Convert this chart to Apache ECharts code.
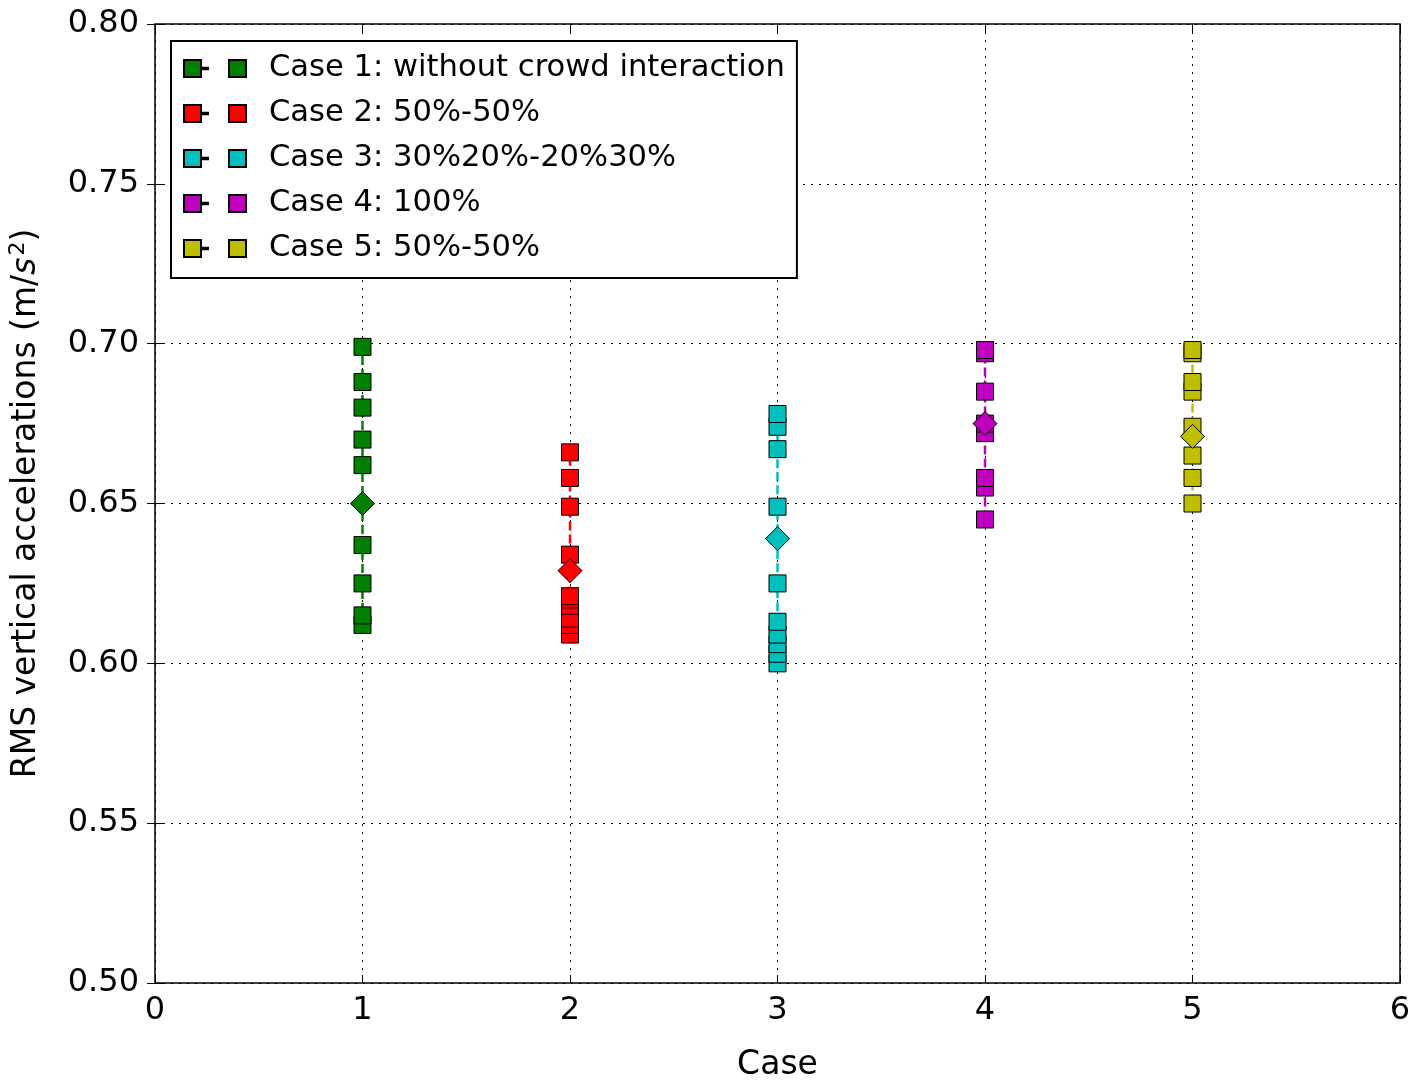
<!DOCTYPE html>
<html>
<head>
<meta charset="utf-8">
<script src="https://cdn.jsdelivr.net/npm/echarts@6/dist/echarts.min.js"></script>
<style>
html,body{margin:0;padding:0;background:#fff;}
#chart{width:1418px;height:1080px;}
</style>
</head>
<body>
<div id="chart"></div>
<script>
// ---- data ----
const caseNames = [
  'Case 1: without crowd interaction',
  'Case 2: 50%-50%',
  'Case 3: 30%20%-20%30%',
  'Case 4: 100%',
  'Case 5: 50%-50%'
];
const caseX = [1, 2, 3, 4, 5];
const case1 = [0.612, 0.615, 0.625, 0.637, 0.662, 0.670, 0.680, 0.688, 0.699];
const case2 = [0.609, 0.612, 0.614, 0.618, 0.620, 0.621, 0.634, 0.649, 0.658, 0.666];
const case3 = [0.600, 0.603, 0.606, 0.609, 0.613, 0.625, 0.649, 0.667, 0.674, 0.678];
const case4 = [0.645, 0.655, 0.658, 0.672, 0.675, 0.685, 0.697, 0.698];
const case5 = [0.650, 0.658, 0.665, 0.674, 0.685, 0.688, 0.697, 0.698];
const caseMeans = [0.650, 0.629, 0.639, 0.675, 0.671];
const xTicks = [0, 1, 2, 3, 4, 5, 6];
const yTicks = [0.50, 0.55, 0.60, 0.65, 0.70, 0.75, 0.80];
const caseColors = ['#007f00', '#ff0000', '#00bfbf', '#bf00bf', '#bfbf00'];

const caseValues = [case1, case2, case3, case4, case5];
const FONT = 'DejaVu Sans';

const series = [];
caseValues.forEach((vals, i) => {
  series.push({
    name: caseNames[i],
    type: 'line',
    xAxisIndex: 0, yAxisIndex: 0,
    data: vals.map(v => [caseX[i], v]),
    symbol: 'rect',
    symbolSize: 17,
    showAllSymbol: true,
    itemStyle: { color: caseColors[i], borderColor: '#000', borderWidth: 1, opacity: 1 },
    lineStyle: { color: caseColors[i], width: 2.5, type: [9, 4] },
    emphasis: { disabled: true },
    z: 3
  });
});
caseMeans.forEach((m, i) => {
  series.push({
    name: 'mean ' + (i + 1),
    type: 'scatter',
    xAxisIndex: 0, yAxisIndex: 0,
    data: [[caseX[i], m]],
    symbol: 'diamond',
    symbolSize: [24, 24],
    itemStyle: { color: caseColors[i], borderColor: '#000', borderWidth: 1, opacity: 1 },
    emphasis: { disabled: true },
    z: 4
  });
});

const gridLine = { show: true, lineStyle: { color: '#000', type: [2, 6], width: 1 } };
const tickIn = { show: true, inside: true, length: 8, lineStyle: { color: '#000', width: 1 } };

const option = {
  animation: false,
  backgroundColor: '#fff',
  grid: {
    left: 155, right: 18, top: 24, bottom: 97,
    outerBoundsMode: 'none', containLabel: false,
    show: true, borderColor: '#000', borderWidth: 1.5, backgroundColor: 'transparent'
  },
  legend: {
    data: caseNames,
    orient: 'vertical',
    left: 171, top: 41,
    padding: [12, 12, 14, 12],
    itemGap: 14,
    itemWidth: 62, itemHeight: 17,
    icon: 'path://M0,0H17V17H0Z M17,7.8H24V9.2H17Z M45,0H62V17H45Z',
    backgroundColor: '#fff',
    borderColor: '#000', borderWidth: 2, borderRadius: 0,
    textStyle: { fontFamily: FONT, fontSize: 30.6, color: '#000', lineHeight: 31, padding: [0, 0, 0, 18] },
    selectedMode: false
  },
  xAxis: [{
    type: 'value', min: xTicks[0], max: xTicks[xTicks.length - 1], interval: 1,
    name: 'Case', nameLocation: 'middle', nameGap: 66,
    nameTextStyle: { fontFamily: FONT, fontSize: 33, color: '#000' },
    axisLine: { show: false },
    axisTick: tickIn,
    axisLabel: { fontFamily: FONT, fontSize: 32, color: '#000', margin: 12 },
    splitLine: gridLine
  }, {
    type: 'value', position: 'top', min: xTicks[0], max: xTicks[xTicks.length - 1], interval: 1,
    axisLine: { show: false }, axisTick: tickIn, axisLabel: { show: false }, splitLine: { show: false }
  }],
  yAxis: [{
    type: 'value', min: yTicks[0], max: yTicks[yTicks.length - 1], interval: 0.05,
    name: '{n|RMS vertical accelerations (m/}{i|s}{s|2}{n|)}',
    nameLocation: 'middle', nameGap: 110, nameRotate: 90,
    nameTextStyle: {
      fontFamily: FONT, fontSize: 33, color: '#000',
      rich: {
        n: { fontFamily: FONT, fontSize: 33, color: '#000' },
        i: { fontFamily: FONT, fontSize: 33, color: '#000', fontStyle: 'italic' },
        s: { fontFamily: FONT, fontSize: 22, color: '#000', verticalAlign: 'top', padding: [0, 0, 16, 2] }
      }
    },
    axisLine: { show: false },
    axisTick: tickIn,
    axisLabel: { fontFamily: FONT, fontSize: 32, color: '#000', margin: 16, formatter: v => v.toFixed(2) },
    splitLine: gridLine
  }, {
    type: 'value', position: 'right', min: yTicks[0], max: yTicks[yTicks.length - 1], interval: 0.05,
    axisLine: { show: false }, axisTick: tickIn, axisLabel: { show: false }, splitLine: { show: false }
  }],
  series: series
};

const chart = echarts.init(document.getElementById('chart'), null, { renderer: 'canvas' });
chart.setOption(option);
</script>
</body>
</html>
